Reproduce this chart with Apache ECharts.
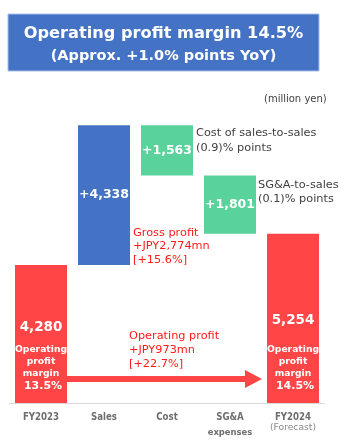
<!DOCTYPE html>
<html>
<head>
<meta charset="utf-8">
<script src="https://cdn.jsdelivr.net/npm/echarts@6/dist/echarts.min.js"></script>
<style>
html,body{margin:0;padding:0;background:#fff;}
#c{width:347px;height:444px;}
</style>
</head>
<body>
<div id="c"></div>
<script>
const categories = ['FY2023', 'Sales', 'Cost', 'SG&A\nexpenses', 'FY2024\n(Forecast)'];
const barValues = [4280, 4338, 1563, 1801, 5254];
const barKinds = ['total', 'increase', 'decrease', 'decrease', 'total'];
const barLabels = ['4,280', '+4,338', '+1,563', '+1,801', '5,254'];
const marginLabels = ['13.5%', null, null, null, '14.5%'];
const arrowLevel = 745;

const FONT = '"DejaVu Sans", Verdana, sans-serif';
const RED = '#FF4545', BLUE = '#4472C4', GREEN = '#5AD29B';

// waterfall bases
const bases = [];
let running = 0;
barKinds.forEach((k, i) => {
  const v = barValues[i];
  if (k === 'total') { bases.push(0); running = v; }
  else if (k === 'increase') { bases.push(running); running += v; }
  else { running -= v; bases.push(running); }
});

const colorOf = k => k === 'total' ? RED : (k === 'increase' ? BLUE : GREEN);

const visibleData = barValues.map((v, i) => {
  const item = { value: v, itemStyle: { color: colorOf(barKinds[i]) } };
  if (barKinds[i] === 'total') {
    const vLH = i === 0 ? 34 : 48;
    item.label = {
      show: true,
      position: 'insideBottom',
      distance: 11,
      formatter: '{v|' + barLabels[i] + '}\n{m|Operating}\n{m|profit}\n{m|margin}\n{p|' + marginLabels[i] + '}',
      rich: {
        v: { color: '#fff', fontFamily: FONT, fontWeight: 'bold', fontSize: 13.5, lineHeight: vLH, align: 'center' },
        m: { color: '#fff', fontFamily: FONT, fontWeight: 'bold', fontSize: 9.2, lineHeight: 12, align: 'center' },
        p: { color: '#fff', fontFamily: FONT, fontWeight: 'bold', fontSize: 11, lineHeight: 12, align: 'center', padding: [0, 0, 0, 4] }
      }
    };
  } else {
    item.label = {
      show: true,
      position: 'inside',
      formatter: barLabels[i],
      color: '#fff', fontFamily: FONT, fontWeight: 'bold', fontSize: 12.5
    };
  }
  return item;
});

const chart = echarts.init(document.getElementById('c'), null, { renderer: 'canvas' });

function txt(text, x, y, size, color, opts) {
  return {
    type: 'text',
    z: 100,
    style: {
      text: text, x: x, y: y,
      fill: color,
      font: (opts && opts.bold ? 'bold ' : '') + size + 'px ' + FONT,
      textAlign: (opts && opts.align) || 'left',
      textVerticalAlign: 'middle'
    }
  };
}

const option = {
  animation: false,
  backgroundColor: '#fff',
  grid: { left: 9.5, right: 22.5, top: 100, bottom: 41 },
  xAxis: {
    type: 'category',
    data: categories,
    axisTick: { show: false },
    axisLine: { lineStyle: { color: '#d9d9d9', width: 1 } },
    axisLabel: {
      interval: 0,
      margin: 6,
      formatter: function (val) {
        const parts = val.split('\n');
        let s = '{b|' + parts[0] + '}';
        if (parts[1]) {
          s += '\n' + (parts[1].charAt(0) === '(' ? '{f|' + parts[1] + '}' : '{e|' + parts[1] + '}');
        }
        return s;
      },
      rich: {
        b: { color: '#6e6e6e', fontFamily: '"DejaVu Sans Condensed", "DejaVu Sans", sans-serif', fontWeight: 'bold', fontSize: 9.6, lineHeight: 16, align: 'center' },
        e: { color: '#6e6e6e', fontFamily: '"DejaVu Sans Condensed", "DejaVu Sans", sans-serif', fontWeight: 'bold', fontSize: 9.4, lineHeight: 16, align: 'center' },
        f: { color: '#8a8a8a', fontFamily: FONT, fontSize: 9.2, lineHeight: 6, align: 'center' }
      }
    }
  },
  yAxis: { type: 'value', min: 0, max: 9400, show: false, splitLine: { show: false } },
  series: [
    {
      type: 'bar', stack: 'w', barWidth: 52,
      itemStyle: { color: 'transparent' },
      emphasis: { disabled: true },
      data: bases
    },
    {
      type: 'bar', stack: 'w', barWidth: 52,
      data: visibleData
    }
  ]
};
chart.setOption(option);

// arrow using the chart's scales
const pA = chart.convertToPixel({ xAxisIndex: 0, yAxisIndex: 0 }, [0, arrowLevel]);
const pB = chart.convertToPixel({ xAxisIndex: 0, yAxisIndex: 0 }, [4, arrowLevel]);
const x0 = pA[0] + 26, x1 = pB[0] - 31, y = pA[1];
const headLen = 17, shaftH = 3, headH = 9;

const graphics = [
  { type: 'rect', z: 90, shape: { x: 8, y: 14, width: 311, height: 57 }, style: { fill: BLUE, stroke: '#a9bfe6', lineWidth: 1 } },
  txt('Operating profit margin 14.5%', 163.5, 34, 16.2, '#fff', { bold: true, align: 'center' }),
  txt('(Approx. +1.0% points YoY)', 163.5, 56, 14.5, '#fff', { bold: true, align: 'center' }),
  txt('(million yen)', 264, 99, 10, '#404040'),
  txt('Cost of sales-to-sales', 196, 133, 11.3, '#404040'),
  txt('(0.9)% points', 196, 148, 11.3, '#404040'),
  txt('SG&A-to-sales', 258, 185, 11.3, '#404040'),
  txt('(0.1)% points', 258, 199, 11.3, '#404040'),
  txt('Gross profit', 133, 233, 11.3, '#FF1a1a'),
  txt('+JPY2,774mn', 133, 246.5, 11.3, '#FF1a1a'),
  txt('[+15.6%]', 133, 260, 11.3, '#FF1a1a'),
  txt('Operating profit', 129, 336, 11.3, '#FF1a1a'),
  txt('+JPY973mn', 129, 350, 11.3, '#FF1a1a'),
  txt('[+22.7%]', 129, 364, 11.3, '#FF1a1a'),
  {
    type: 'polygon', z: 95,
    shape: {
      points: [
        [x0, y - shaftH], [x1 - headLen, y - shaftH], [x1 - headLen, y - headH],
        [x1, y], [x1 - headLen, y + headH], [x1 - headLen, y + shaftH], [x0, y + shaftH]
      ]
    },
    style: { fill: RED }
  }
];
chart.setOption({ graphic: graphics });
</script>
</body>
</html>
